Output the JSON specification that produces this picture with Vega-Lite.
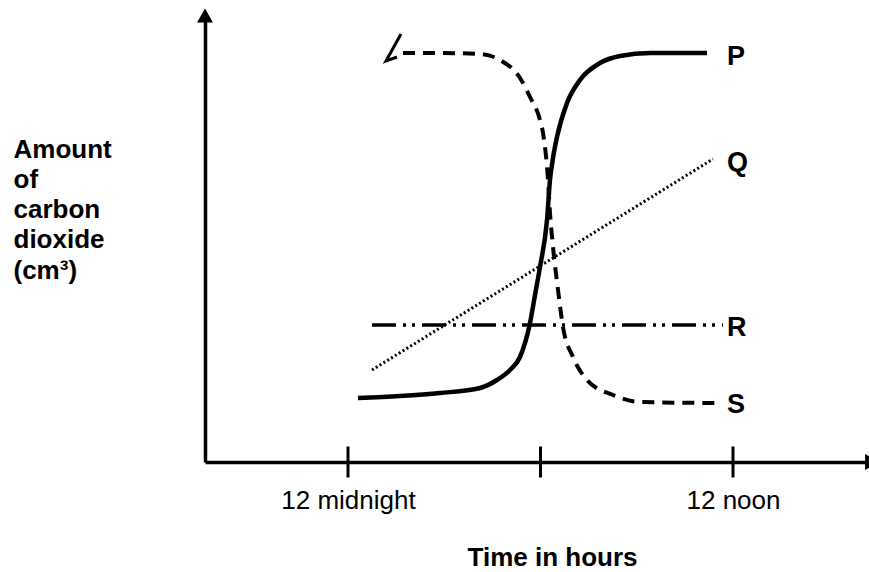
{
  "$schema": "https://vega.github.io/schema/vega-lite/v6.json",
  "width": 664,
  "height": 442,
  "autosize": {"type": "none"},
  "padding": {"left": 205, "top": 20, "right": 0, "bottom": 110},
  "background": "white",
  "config": {"view": {"stroke": null}, "font": "Liberation Sans"},
  "datasets": {
    "curves": [
      {"series": "P", "i": 1, "t": 0.312, "amount": 16},
      {"series": "P", "i": 2, "t": 1.621, "amount": 16.5},
      {"series": "P", "i": 3, "t": 2.868, "amount": 17.25},
      {"series": "P", "i": 4, "t": 4.114, "amount": 18.5},
      {"series": "P", "i": 5, "t": 4.644, "amount": 20.5},
      {"series": "P", "i": 6, "t": 5.049, "amount": 23},
      {"series": "P", "i": 7, "t": 5.361, "amount": 26.25},
      {"series": "P", "i": 8, "t": 5.673, "amount": 34.75},
      {"series": "P", "i": 9, "t": 5.829, "amount": 41.75},
      {"series": "P", "i": 10, "t": 5.984, "amount": 48.75},
      {"series": "P", "i": 11, "t": 6.203, "amount": 60.5},
      {"series": "P", "i": 12, "t": 6.296, "amount": 70.5},
      {"series": "P", "i": 13, "t": 6.39, "amount": 76},
      {"series": "P", "i": 14, "t": 6.514, "amount": 81.25},
      {"series": "P", "i": 15, "t": 6.826, "amount": 89.75},
      {"series": "P", "i": 16, "t": 7.231, "amount": 95.5},
      {"series": "P", "i": 17, "t": 7.855, "amount": 99.75},
      {"series": "P", "i": 18, "t": 8.478, "amount": 101.5},
      {"series": "P", "i": 19, "t": 9.413, "amount": 102.25},
      {"series": "P", "i": 20, "t": 11.19, "amount": 102.25},
      {"series": "Q", "i": 1, "t": 0.748, "amount": 23},
      {"series": "Q", "i": 2, "t": 11.377, "amount": 75.75},
      {"series": "R", "i": 1, "t": 0.748, "amount": 34.25},
      {"series": "R", "i": 2, "t": 11.688, "amount": 34.25},
      {"series": "S", "i": 1, "t": 1.714, "amount": 102.25},
      {"series": "S", "i": 2, "t": 2.868, "amount": 102.25},
      {"series": "S", "i": 3, "t": 4.114, "amount": 102},
      {"series": "S", "i": 4, "t": 4.738, "amount": 100.5},
      {"series": "S", "i": 5, "t": 5.361, "amount": 96},
      {"series": "S", "i": 6, "t": 5.673, "amount": 91.25},
      {"series": "S", "i": 7, "t": 5.984, "amount": 85.5},
      {"series": "S", "i": 8, "t": 6.078, "amount": 82.25},
      {"series": "S", "i": 9, "t": 6.234, "amount": 70.5},
      {"series": "S", "i": 10, "t": 6.296, "amount": 62.25},
      {"series": "S", "i": 11, "t": 6.39, "amount": 53.75},
      {"series": "S", "i": 12, "t": 6.546, "amount": 43},
      {"series": "S", "i": 13, "t": 6.701, "amount": 33.75},
      {"series": "S", "i": 14, "t": 7.013, "amount": 26.25},
      {"series": "S", "i": 15, "t": 7.449, "amount": 20.5},
      {"series": "S", "i": 16, "t": 8.26, "amount": 16.75},
      {"series": "S", "i": 17, "t": 9.101, "amount": 15},
      {"series": "S", "i": 18, "t": 11.533, "amount": 14.75},
      {"series": "mark", "i": 1, "t": 1.652, "amount": 107},
      {"series": "mark", "i": 2, "t": 1.184, "amount": 100.25},
      {"series": "mark", "i": 3, "t": 1.527, "amount": 101.25}
    ],
    "labels": [
      {"label": "P", "t": 11.813, "amount": 101.25},
      {"label": "Q", "t": 11.813, "amount": 74.75},
      {"label": "R", "t": 11.813, "amount": 33.5},
      {"label": "S", "t": 11.813, "amount": 14.25}
    ],
    "hourMarks": [{"t": 0, "amount": 0}, {"t": 6, "amount": 0}, {"t": 12, "amount": 0}],
    "arrowUp": [{"t": -4.457, "amount": 111.625}],
    "arrowRight": [{"t": 16.333, "amount": 0}]
  },
  "encoding": {
    "x": {
      "field": "t",
      "type": "quantitative",
      "scale": {"domain": [-4.457, 16.239], "nice": false, "zero": false},
      "axis": {
        "values": [0, 12],
        "labelExpr": "datum.value == 0 ? '12 midnight' : '12 noon'",
        "ticks": false,
        "tickSize": 0,
        "grid": false,
        "domainColor": "black",
        "domainWidth": 3.5,
        "labelFontSize": 26,
        "labelColor": "black",
        "labelBaseline": "alphabetic",
        "labelPadding": 46,
        "labelFlush": false,
        "labelOverlap": false,
        "title": "Time in hours",
        "titleFontSize": 26,
        "titleFontWeight": "bold",
        "titleColor": "black",
        "titleX": 347,
        "titleY": 103,
        "titleAlign": "center",
        "titleBaseline": "alphabetic"
      }
    },
    "y": {
      "field": "amount",
      "type": "quantitative",
      "scale": {"domain": [0, 110.5], "nice": false, "zero": false},
      "axis": {
        "ticks": false,
        "labels": false,
        "grid": false,
        "domainColor": "black",
        "domainWidth": 3.5,
        "title": ["Amount", "of", "carbon", "dioxide", "(cm³)"],
        "titleAngle": 0,
        "titleAlign": "left",
        "titleBaseline": "alphabetic",
        "titleX": -192,
        "titleY": 137,
        "titleFontSize": 26,
        "titleFontWeight": "bold",
        "titleLineHeight": 30.3,
        "titleColor": "black"
      }
    }
  },
  "layer": [
    {
      "data": {"name": "curves"},
      "transform": [{"filter": "datum.series == 'P'"}],
      "mark": {"type": "line", "color": "black", "strokeWidth": 4.5, "interpolate": "monotone"},
      "encoding": {"order": {"field": "i", "type": "quantitative"}}
    },
    {
      "data": {"name": "curves"},
      "transform": [{"filter": "datum.series == 'Q'"}],
      "mark": {"type": "line", "color": "black", "strokeWidth": 3, "strokeDash": [2, 2.5]},
      "encoding": {"order": {"field": "i", "type": "quantitative"}}
    },
    {
      "data": {"name": "curves"},
      "transform": [{"filter": "datum.series == 'R'"}],
      "mark": {"type": "line", "color": "black", "strokeWidth": 3.5, "strokeDash": [24, 7, 3, 6, 3, 7]},
      "encoding": {"order": {"field": "i", "type": "quantitative"}}
    },
    {
      "data": {"name": "curves"},
      "transform": [{"filter": "datum.series == 'S'"}],
      "mark": {"type": "line", "color": "black", "strokeWidth": 4, "strokeDash": [12, 8], "interpolate": "monotone"},
      "encoding": {"order": {"field": "i", "type": "quantitative"}}
    },
    {
      "data": {"name": "curves"},
      "transform": [{"filter": "datum.series == 'mark'"}],
      "mark": {"type": "line", "color": "black", "strokeWidth": 3},
      "encoding": {"order": {"field": "i", "type": "quantitative"}}
    },
    {
      "data": {"name": "hourMarks"},
      "mark": {"type": "tick", "orient": "vertical", "color": "black", "size": 31, "thickness": 3, "opacity": 1}
    },
    {
      "data": {"name": "arrowUp"},
      "mark": {"type": "point", "shape": "triangle-up", "size": 256, "filled": true, "color": "black", "opacity": 1}
    },
    {
      "data": {"name": "arrowRight"},
      "mark": {"type": "point", "shape": "triangle-right", "size": 256, "filled": true, "color": "black", "opacity": 1}
    },
    {
      "data": {"name": "labels"},
      "mark": {"type": "text", "align": "left", "baseline": "middle", "fontSize": 27, "fontWeight": "bold", "color": "black"},
      "encoding": {"text": {"field": "label"}}
    }
  ]
}
